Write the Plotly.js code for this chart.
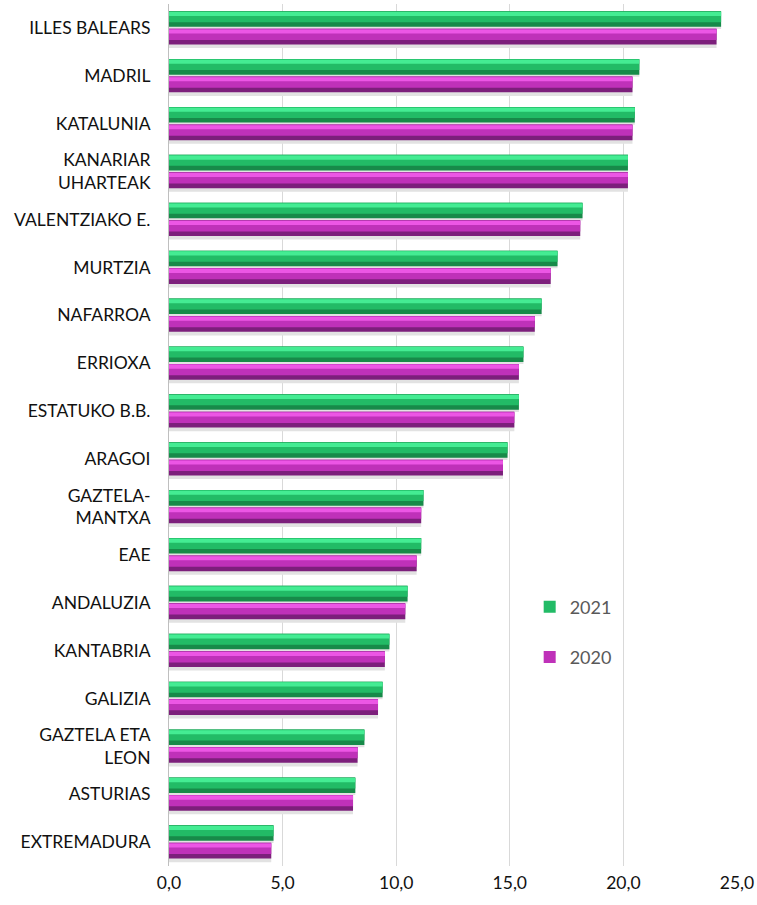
<!DOCTYPE html>
<html>
<head>
<meta charset="utf-8">
<script src="https://cdn.plot.ly/plotly-3.0.1.min.js"></script>
<style>html,body{margin:0;padding:0;background:#fff;}#chart{width:757px;height:905px;}</style>
</head>
<body>
<div id="chart"></div>
<script>
const categories = [
  "ILLES BALEARS", "MADRIL", "KATALUNIA", "KANARIAR<br>UHARTEAK", "VALENTZIAKO E.",
  "MURTZIA", "NAFARROA", "ERRIOXA", "ESTATUKO B.B.", "ARAGOI",
  "GAZTELA-<br>MANTXA", "EAE", "ANDALUZIA", "KANTABRIA", "GALIZIA",
  "GAZTELA ETA<br>LEON", "ASTURIAS", "EXTREMADURA"
];
const values2021 = [24.3, 20.7, 20.5, 20.2, 18.2, 17.1, 16.4, 15.6, 15.4, 14.9, 11.2, 11.1, 10.5, 9.7, 9.4, 8.6, 8.2, 4.6];
const values2020 = [24.1, 20.4, 20.4, 20.2, 18.1, 16.8, 16.1, 15.4, 15.2, 14.7, 11.1, 10.9, 10.4, 9.5, 9.2, 8.3, 8.1, 4.5];
const seriesNames = ["2021", "2020"];
const tickVals = [0, 5, 10, 15, 20, 25];

function layer(vals, color, offset, width, opts) {
  return Object.assign({
    type: "bar", orientation: "h", x: vals, y: categories,
    offset: offset, width: width,
    marker: {color: color, line: {width: 0}},
    hoverinfo: "skip", showlegend: false
  }, opts || {});
}

const traces = [
  // 2021 (green)
  layer(values2021, "#e2e2e2", -0.33, 0.35, {legendgroup: "a"}),
  layer(values2021, "#178a49", -0.35, 0.325, {legendgroup: "a"}),
  layer(values2021, "#22bb66", -0.35, 0.23, {legendgroup: "a", showlegend: true, name: seriesNames[0]}),
  layer(values2021, "#44ec93", -0.335, 0.085, {legendgroup: "a"}),
  // 2020 (magenta)
  layer(values2020, "#e2e2e2", 0.035, 0.385, {legendgroup: "b"}),
  layer(values2020, "#7c1f7b", 0.015, 0.33, {legendgroup: "b"}),
  layer(values2020, "#bf31b9", 0.015, 0.235, {legendgroup: "b", showlegend: true, name: seriesNames[1]}),
  layer(values2020, "#ec56e5", 0.03, 0.085, {legendgroup: "b"})
];

const font = "Lato, 'Open Sans', sans-serif";
const layout = {
  width: 757, height: 905,
  margin: {l: 169, r: 20, t: 4, b: 39},
  paper_bgcolor: "#fff", plot_bgcolor: "#fff",
  barmode: "overlay",
  separators: ",.",
  font: {family: font, size: 17, color: "#111"},
  xaxis: {
    range: [0, 25], tickvals: tickVals, tickformat: ".1f",
    showgrid: true, gridcolor: "#d9d9d9", gridwidth: 1,
    zeroline: false, showline: false, ticks: "",
    ticklabelstandoff: 4,
    tickfont: {family: font, size: 17.5, color: "#111"}
  },
  yaxis: {
    autorange: "reversed", type: "category",
    showgrid: false, zeroline: false,
    showline: true, linecolor: "#bfbfbf", linewidth: 1,
    ticks: "", ticklabelstandoff: 14,
    tickfont: {family: font, size: 17.5, color: "#111"}
  },
  legend: {
    x: 0.635, xanchor: "left", y: 0.322, yanchor: "top",
    traceorder: "grouped", tracegroupgap: 24,
    bgcolor: "rgba(0,0,0,0)",
    font: {family: font, size: 18, color: "#595959"}
  },
  showlegend: true
};

Plotly.newPlot("chart", traces, layout, {staticPlot: true, displayModeBar: false});
</script>
</body>
</html>
